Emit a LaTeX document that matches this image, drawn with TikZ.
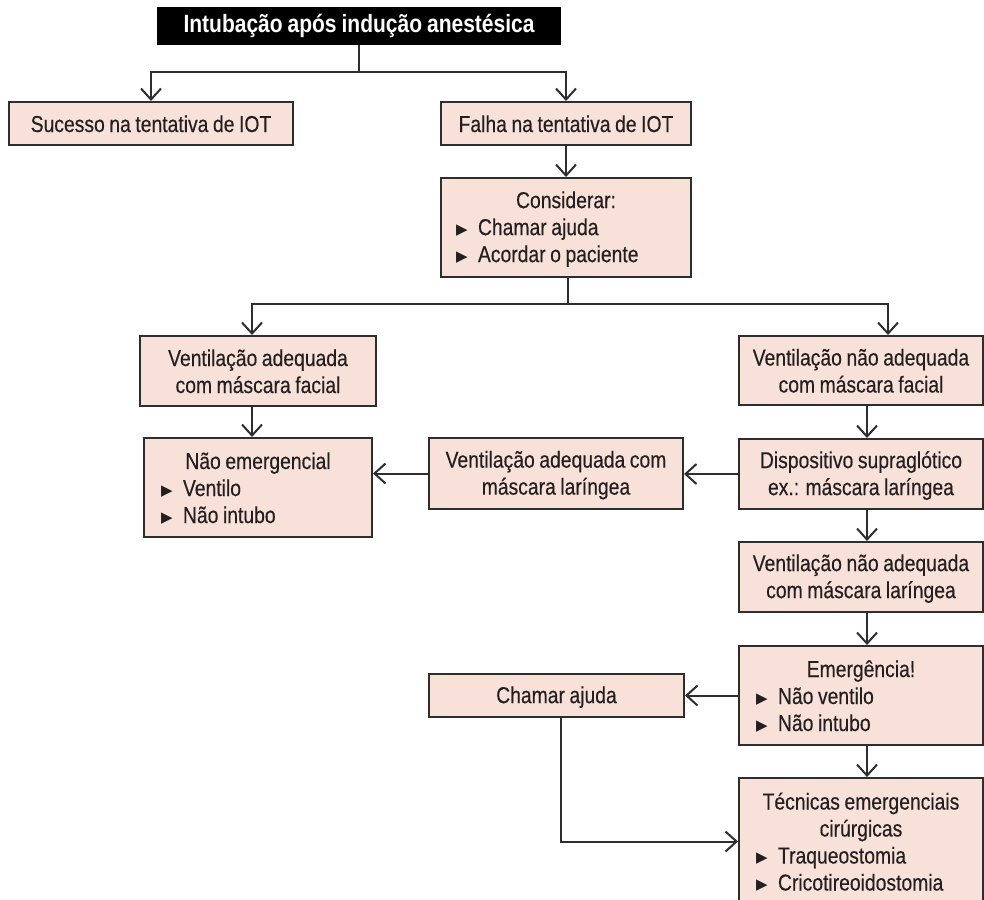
\documentclass[tikz,border=0pt]{standalone}
\usepackage{fontspec}
\setmainfont{Liberation Sans}[FakeStretch=0.84, WordSpace=0.85, UprightFeatures={FakeBold=0.35}]
\newfontfamily\symfont{DejaVu Sans}
\usetikzlibrary{arrows.meta}
\definecolor{boxc}{HTML}{F8E1D8}
\definecolor{linec}{HTML}{2E2E2E}
\definecolor{textc}{HTML}{231F20}
\newcommand\bul{\makebox[22pt][l]{\raisebox{1pt}{\symfont\fontsize{15}{15}\selectfont ▶}}}
\newcommand\ctr[1]{\makebox[\linewidth][c]{#1}}
\newcommand\fs{\spaceskip=0pt\xspaceskip=0pt\rule[-3pt]{0pt}{23pt}}
\newcommand\ls{\rule[-3pt]{0pt}{3pt}}
\begin{document}
\begin{tikzpicture}[x=1pt,y=-1pt,
  box/.style={draw=linec, fill=boxc, line width=2pt, inner sep=0pt, align=center,
    text=textc, font=\fontsize{23}{27}\selectfont},
  ln/.style={draw=linec, line width=2pt},
  arr/.style={draw=linec, line width=2pt, -{Straight Barb[length=11pt,width=20pt,line width=2pt]}}]
\useasboundingbox (0,0) rectangle (984,899);
\clip (0,0) rectangle (984,899);
\fill[white] (0,0) rectangle (984,899);

\node[fill=black, text=white, inner sep=0pt, minimum width=404, minimum height=38,
  font=\bfseries\fontsize{25}{27}\selectfont] (hdr) at (359,26) {Intubação após indução anestésica};

\node[box, minimum width=284, minimum height=43] (suc) at (151,123.5) {\fs Sucesso na tentativa de IOT};
\node[box, minimum width=250, minimum height=43] (fal) at (566,123.5) {\fs Falha na tentativa de IOT};
\node[box, minimum width=250, minimum height=99, text width=220, align=left] (con) at (566,227.5)
  {\fs\ctr{Considerar:}\\\bul Chamar ajuda\\\bul Acordar o paciente\ls};
\node[box, minimum width=236, minimum height=70] (va) at (258,371) {\fs Ventilação adequada\\com máscara facial\ls};
\node[box, minimum width=244, minimum height=69] (vn) at (861,370.5) {\fs Ventilação não adequada\\com máscara facial\ls};
\node[box, minimum width=228, minimum height=99, text width=194, align=left] (ne) at (258,487.5)
  {\fs\ctr{Não emergencial}\\\bul Ventilo\\\bul Não intubo\ls};
\node[box, minimum width=254, minimum height=71] (lar) at (556,473.5) {\fs Ventilação adequada com\\máscara laríngea\ls};
\node[box, minimum width=244, minimum height=70] (dis) at (861,474) {\fs Dispositivo supraglótico\\ex.: máscara laríngea\ls};
\node[box, minimum width=244, minimum height=70] (vnl) at (861,577) {\fs Ventilação não adequada\\com máscara laríngea\ls};
\node[box, minimum width=255, minimum height=43] (ch) at (556.5,695.5) {\fs Chamar ajuda};
\node[box, minimum width=244, minimum height=99, text width=210, align=left] (em) at (861,695.5)
  {\fs\ctr{Emergência!}\\\bul Não ventilo\\\bul Não intubo\ls};
\node[box, minimum width=244, minimum height=127, text width=210, align=left] (tec) at (861,841.5)
  {\fs\ctr{Técnicas emergenciais}\\\ctr{cirúrgicas}\\\bul Traqueostomia\\\bul Cricotireoidostomia\ls};

\coordinate (h1) at (359,72);
\draw[ln] (hdr.south) -- (h1);
\draw[arr] (h1) -| (suc.north);
\draw[arr] (h1) -| (fal.north);
\draw[arr] (fal.south) -- (con.north);

\coordinate (c1) at (568,304);
\draw[ln] (con.south -| c1) -- (c1);
\draw[arr] (c1) -| ([xshift=-6pt]va.north);
\draw[arr] (c1) -| ([xshift=27pt]vn.north);

\draw[arr] ([xshift=-6pt]va.south) -- ([xshift=-6pt]ne.north);
\draw[arr] ([xshift=6pt]vn.south) -- ([xshift=6pt]dis.north);
\draw[arr] (dis.west) -- (dis.west -| lar.east);
\draw[arr] (lar.west) -- (lar.west -| ne.east);
\draw[arr] ([xshift=6pt]dis.south) -- ([xshift=6pt]vnl.north);
\draw[arr] ([xshift=6pt]vnl.south) -- ([xshift=6pt]em.north);
\draw[arr] (em.west) -- (em.west -| ch.east);
\draw[arr] ([xshift=6pt]em.south) -- ([xshift=6pt]tec.north);
\draw[arr] ([xshift=4pt]ch.south) |- (tec.west);
\end{tikzpicture}
\end{document}
